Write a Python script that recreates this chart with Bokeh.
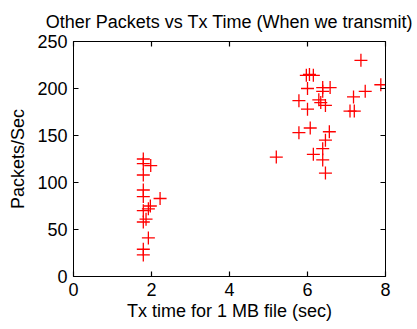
from bokeh.plotting import figure
from bokeh.models import LinearAxis, Range1d, FixedTicker
from bokeh.embed import file_html
from bokeh.resources import INLINE

tx_time = [1.79, 1.79, 1.98, 1.79, 1.79, 1.79, 2.22, 1.97, 1.92, 1.79, 1.86, 1.79, 1.92, 1.79, 1.79,
           7.37, 6.05, 6.15, 5.97, 7.88, 6.00, 6.39, 6.58, 7.48, 6.39, 7.18, 5.78, 6.29, 6.34, 6.46,
           6.00, 7.09, 7.20, 5.78, 6.07, 6.56, 6.46, 6.39, 6.15, 6.39, 5.20, 6.46]
packets = [125, 120, 118, 108, 92, 85, 83, 75, 72, 70, 61, 58, 41, 29, 23,
           230, 215, 214, 214, 204, 200, 201, 201, 197, 197, 191, 187, 188, 185, 182,
           178, 176, 176, 153, 158, 154, 145, 136, 130, 124, 127, 110]

x_ticks = [0, 2, 4, 6, 8]
y_ticks = [0, 50, 100, 150, 200, 250]

FONT = "Liberation Sans"

p = figure(width=417, height=329, output_backend="svg", toolbar_location=None,
           x_range=Range1d(0, 8), y_range=Range1d(0, 250),
           title="Other Packets vs Tx Time (When we transmit)",
           min_border_left=73, min_border_right=32, min_border_top=41, min_border_bottom=53)

p.title.align = "center"
p.title.vertical_align = "top"
p.title.text_font = FONT
p.title.text_font_size = "18px"
p.title.text_font_style = "normal"
p.title.text_color = "black"
p.title.standoff = 16

p.grid.visible = False
p.outline_line_color = "black"
p.outline_line_width = 1
p.background_fill_color = "white"
p.border_fill_color = "white"

for ax in (p.xaxis[0], p.yaxis[0]):
    ax.major_tick_in = 5
    ax.major_tick_out = 0
    ax.minor_tick_line_color = None
    ax.axis_line_color = "black"
    ax.axis_line_width = 1
    ax.major_tick_line_color = "black"
    ax.major_tick_line_width = 1.2
    ax.major_label_text_font = FONT
    ax.major_label_text_font_size = "18px"
    ax.major_label_text_color = "black"
    ax.axis_label_text_font = FONT
    ax.axis_label_text_font_size = "18px"
    ax.axis_label_text_font_style = "normal"
    ax.axis_label_text_color = "black"

p.xaxis[0].ticker = FixedTicker(ticks=x_ticks)
p.yaxis[0].ticker = FixedTicker(ticks=y_ticks)
p.xaxis[0].axis_label = "Tx time for 1 MB file (sec)"
p.yaxis[0].axis_label = "Packets/Sec"
p.xaxis[0].major_label_standoff = 6
p.yaxis[0].major_label_standoff = 6
p.xaxis[0].axis_label_standoff = 2
p.yaxis[0].axis_label_standoff = 6

top_axis = LinearAxis(ticker=FixedTicker(ticks=x_ticks), major_tick_in=5, major_tick_out=0,
                      minor_tick_line_color=None, axis_line_color="black",
                      major_tick_line_color="black", major_tick_line_width=1.2,
                      major_label_text_alpha=0, major_label_text_font_size="1px",
                      major_label_standoff=0)
right_axis = LinearAxis(ticker=FixedTicker(ticks=y_ticks), major_tick_in=5, major_tick_out=0,
                        minor_tick_line_color=None, axis_line_color="black",
                        major_tick_line_color="black", major_tick_line_width=1.2,
                        major_label_text_alpha=0, major_label_text_font_size="1px",
                        major_label_standoff=0)
p.add_layout(top_axis, "above")
p.add_layout(right_axis, "right")

p.scatter(tx_time, packets, marker="cross", size=13, line_color="#ff0000", line_width=1.3)

out = file_html(p, INLINE)
open("out.html", "w").write(out)
